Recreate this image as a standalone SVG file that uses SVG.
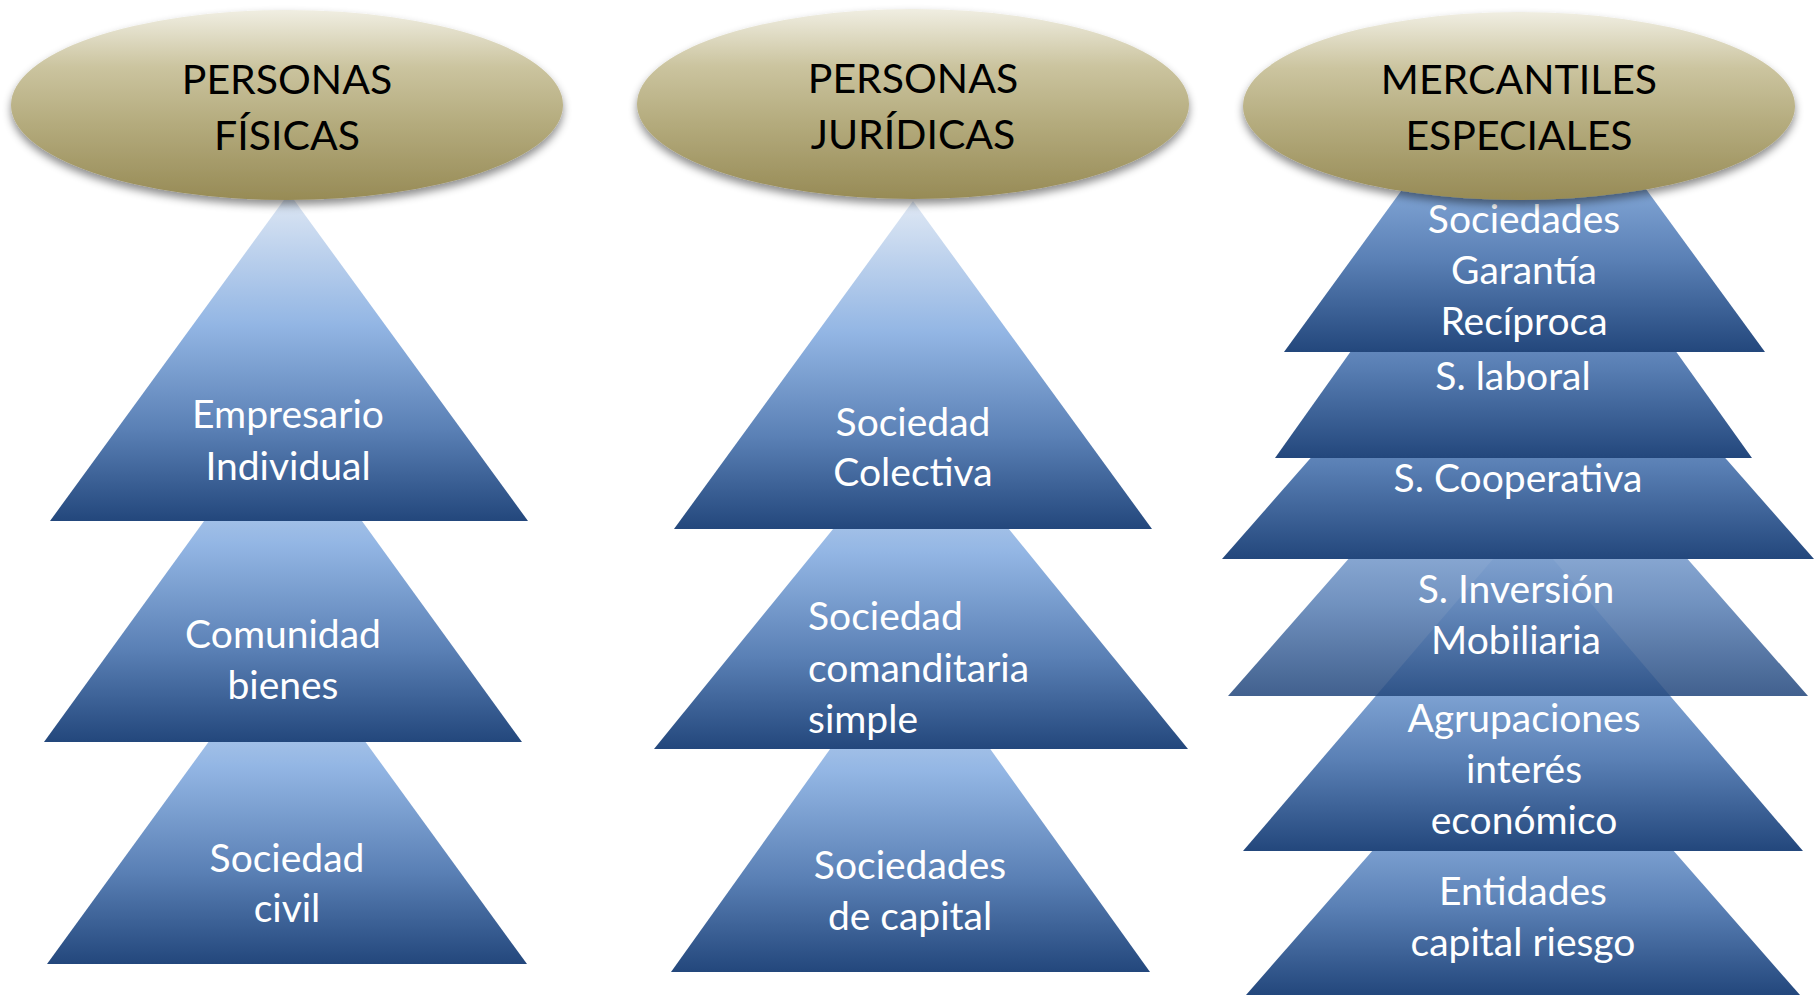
<svg xmlns="http://www.w3.org/2000/svg" width="1814" height="995" viewBox="0 0 1814 995">
<defs>
<linearGradient id="gTri" x1="0" y1="0" x2="0" y2="1">
<stop offset="0" stop-color="#dfe8f4"/>
<stop offset="0.4" stop-color="#93b6e4"/>
<stop offset="0.72" stop-color="#5a80b5"/>
<stop offset="1" stop-color="#23477c"/>
</linearGradient>
<linearGradient id="gEll" x1="0" y1="0" x2="0" y2="1">
<stop offset="0" stop-color="#f0eee2"/>
<stop offset="0.3" stop-color="#cbc49f"/>
<stop offset="0.6" stop-color="#b4ab7d"/>
<stop offset="1" stop-color="#978b56"/>
</linearGradient>
<filter id="shadow" x="-10%" y="-10%" width="120%" height="130%">
<feDropShadow dx="0" dy="5" stdDeviation="4" flood-color="#000" flood-opacity="0.45"/>
</filter>
</defs>
<style>
.tri{fill:url(#gTri);}
.ell{fill:url(#gEll);filter:url(#shadow);}
.hd{font-family:Lato,"Open Sans","Liberation Sans",sans-serif;font-size:41px;fill:#000;text-anchor:middle;}
.lb{font-family:Lato,"Open Sans","Liberation Sans",sans-serif;font-size:39px;fill:#fff;text-anchor:middle;}
.lbl{text-anchor:start;}
</style>
<rect width="1814" height="995" fill="#fff"/>
<g id="connectors"/>

<!-- Column 1 -->
<g id="sociedad-civil">
<polygon class="tri" points="287,634 47,964 527,964"/>
<text class="lb" x="287" y="872">Sociedad</text>
<text class="lb" x="287" y="922">civil</text>
</g>
<g id="comunidad-bienes">
<polygon class="tri" points="283,412 44,742 522,742"/>
<text class="lb" x="283" y="648">Comunidad</text>
<text class="lb" x="283" y="699">bienes</text>
</g>
<g id="empresario-individual">
<polygon class="tri" points="289,193 50,521 528,521"/>
<text class="lb" x="288" y="428">Empresario</text>
<text class="lb" x="288" y="480">Individual</text>
</g>
<g id="personas-fisicas">
<ellipse class="ell" cx="287" cy="105" rx="276" ry="95"/>
<text class="hd" x="287" y="94">PERSONAS</text>
<text class="hd" x="287" y="150">FÍSICAS</text>
</g>

<!-- Column 2 -->
<g id="sociedades-capital">
<polygon class="tri" points="910,637 671,972 1150,972"/>
<text class="lb" x="910" y="879">Sociedades</text>
<text class="lb" x="910" y="930">de capital</text>
</g>
<g id="sociedad-comanditaria">
<polygon class="tri" points="921,421 654,749 1188,749"/>
<text class="lb lbl" x="808" y="630">Sociedad</text>
<text class="lb lbl" x="808" y="682">comanditaria</text>
<text class="lb lbl" x="808" y="733">simple</text>
</g>
<g id="sociedad-colectiva">
<polygon class="tri" points="913,201 674,529 1152,529"/>
<text class="lb" x="913" y="436">Sociedad</text>
<text class="lb" x="913" y="486">Colectiva</text>
</g>
<g id="personas-juridicas">
<ellipse class="ell" cx="913" cy="104" rx="276" ry="95"/>
<text class="hd" x="913" y="93">PERSONAS</text>
<text class="hd" x="913" y="149">JURÍDICAS</text>
</g>

<!-- Column 3 -->
<g id="entidades-capital-riesgo">
<polygon class="tri" points="1523,679 1246,995 1800,995"/>
<text class="lb" x="1523" y="905">Entidades</text>
<text class="lb" x="1523" y="956">capital riesgo</text>
</g>
<g id="agrupaciones-interes-economico">
<polygon class="tri" points="1523,524 1243,851 1803,851"/>
<text class="lb" x="1524" y="732">Agrupaciones</text>
<text class="lb" x="1524" y="783">interés</text>
<text class="lb" x="1524" y="834">económico</text>
</g>
<g id="s-inversion-mobiliaria">
<polygon class="tri" points="1518,366 1228,696 1808,696" opacity="0.86"/>
<text class="lb" x="1516" y="603">S. Inversión</text>
<text class="lb" x="1516" y="654">Mobiliaria</text>
</g>
<g id="s-cooperativa">
<polygon class="tri" points="1518,222 1222,559 1814,559"/>
<text class="lb" x="1518" y="492">S. Cooperativa</text>
</g>
<g id="s-laboral">
<polygon class="tri" points="1513,123 1275,458 1752,458"/>
<text class="lb" x="1513" y="390">S. laboral</text>
</g>
<g id="sociedades-garantia-reciproca">
<polygon class="tri" points="1524,22 1284,352 1765,352"/>
<text class="lb" x="1524" y="233">Sociedades</text>
<text class="lb" x="1524" y="284">Garantía</text>
<text class="lb" x="1524" y="335">Recíproca</text>
</g>
<g id="mercantiles-especiales">
<ellipse class="ell" cx="1519" cy="106" rx="276" ry="94"/>
<text class="hd" x="1519" y="94">MERCANTILES</text>
<text class="hd" x="1519" y="150">ESPECIALES</text>
</g>
</svg>
